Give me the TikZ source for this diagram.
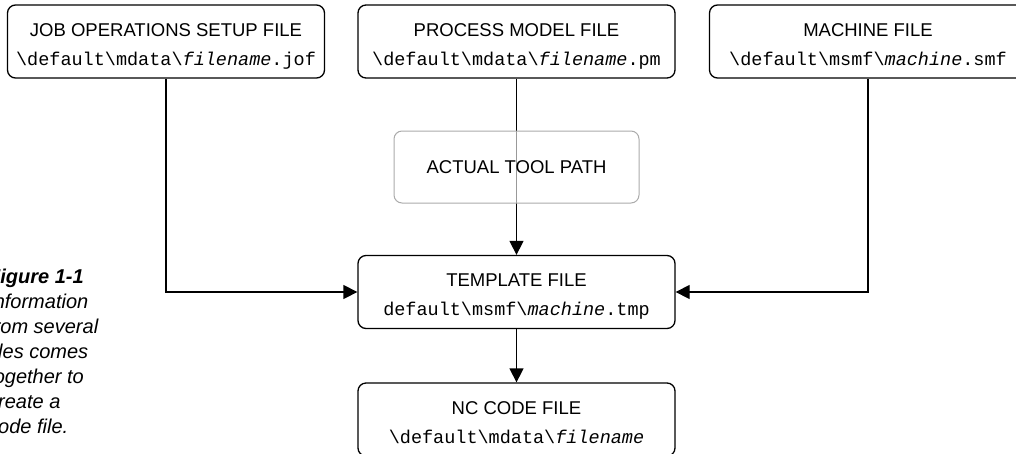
\documentclass[tikz,border=0pt]{standalone}
\usepackage{fontspec}
\setmainfont{Liberation Sans}
\setmonofont{Liberation Mono}
\usepackage{tikz}
\usetikzlibrary{positioning,arrows.meta}

\tikzset{
  filebox/.style={draw=black, line width=1.3pt, rounded corners=8pt, fill=white,
    minimum width=317pt, minimum height=73pt, inner sep=0pt, align=center,
    text height=47pt, text depth=0pt, font=\fontsize{18.5}{29}\selectfont},
  toolbox/.style={draw=black!33, line width=1pt, rounded corners=8pt, fill=white,
    fill opacity=0.6, text opacity=1, minimum width=245pt, minimum height=72pt,
    font=\fontsize{18.5}{22}\selectfont},
  feed/.style={line width=1.3pt, -{Triangle[width=14pt,length=14pt]}}
}

\begin{document}
\begin{tikzpicture}[x=1pt,y=-1pt]
\useasboundingbox (0,0) rectangle (1016,453);
\node[filebox] (jof) at (166,41.5)
    {JOB OPERATIONS SETUP FILE\\\texttt{\textbackslash default\textbackslash mdata\textbackslash\textit{filename}.jof}};
\node[filebox] (pm) at (516.5,41.5)
    {PROCESS MODEL FILE\\\texttt{\textbackslash default\textbackslash mdata\textbackslash\textit{filename}.pm}};
\node[filebox] (smf) at (868,41.5)
    {MACHINE FILE\\\texttt{\textbackslash default\textbackslash msmf\textbackslash\textit{machine}.smf}};
\node[filebox] (tmp) at (516.5,292)
    {TEMPLATE FILE\\\texttt{default\textbackslash msmf\textbackslash\textit{machine}.tmp}};
\node[filebox] (nc) at (516.5,419.5)
    {NC CODE FILE\\\texttt{\textbackslash default\textbackslash mdata\textbackslash\textit{filename}}};
% caption, cut off at the left edge
\node[anchor=base west, align=left, inner sep=0pt,
      font=\fontsize{20}{25}\selectfont\itshape] (cap) at (-12,433)
    {\textbf{Figure 1-1}\\Information\\from several\\files comes\\together to\\create a\\code file.};

\draw[feed] (jof) |- (tmp);
\draw[feed] (smf) |- (tmp);
\draw[feed] (pm) -- (tmp);
\draw[feed] (tmp) -- (nc);
\node[toolbox] (path) at (516.5,167) {ACTUAL TOOL PATH};
\end{tikzpicture}
\end{document}
